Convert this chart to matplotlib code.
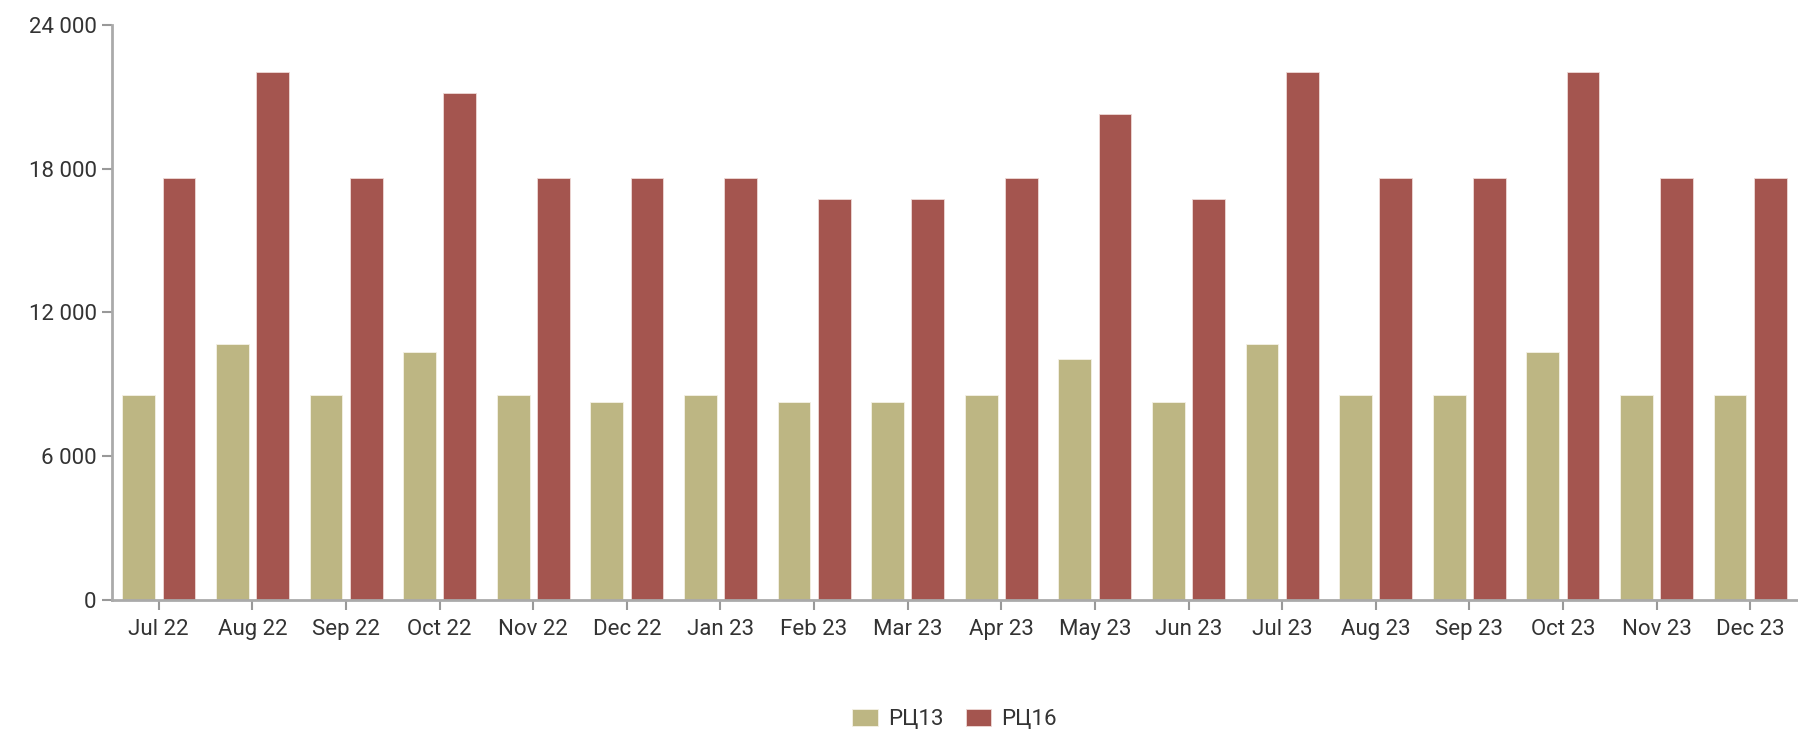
import matplotlib
matplotlib.use('Agg')
import matplotlib.pyplot as plt
import numpy as np
from matplotlib.ticker import FuncFormatter

plt.rcParams['font.family'] = ['Roboto', 'DejaVu Sans']

# dados
meses = ['Jul 22', 'Aug 22', 'Sep 22', 'Oct 22', 'Nov 22', 'Dec 22',
         'Jan 23', 'Feb 23', 'Mar 23', 'Apr 23', 'May 23', 'Jun 23',
         'Jul 23', 'Aug 23', 'Sep 23', 'Oct 23', 'Nov 23', 'Dec 23']
rc13 = [8530, 10660, 8530, 10350, 8530, 8240,
        8530, 8240, 8240, 8530, 10030, 8240,
        10660, 8530, 8530, 10350, 8530, 8530]
rc16 = [17620, 22050, 17620, 21150, 17620, 17620,
        17620, 16730, 16730, 17620, 20270, 16730,
        22050, 17620, 17620, 22050, 17620, 17620]
nomes = ['РЦ13', 'РЦ16']
cores = ['#bdb683', '#a4554f']
y_ticks = [0, 6000, 12000, 18000, 24000]

fig = plt.figure(figsize=(17.99, 7.31), dpi=100)
ax = fig.add_axes([112 / 1799, 1 - 599.5 / 731, (1797 - 112) / 1799, (599.5 - 25) / 731])

x = np.arange(len(meses))
w = 0.35
ax.bar(x - 0.215, rc13, w, color=cores[0], edgecolor='#f4f1e6', linewidth=0.6, label=nomes[0])
ax.bar(x + 0.215, rc16, w, color=cores[1], edgecolor='#eed9d7', linewidth=0.6, label=nomes[1])

ax.set_xlim(-0.5, len(meses) - 0.5)
ax.set_ylim(0, 24000)
ax.set_xticks(x)
ax.set_xticklabels(meses)
ax.set_yticks(y_ticks)
ax.yaxis.set_major_formatter(FuncFormatter(lambda v, p: f'{int(v):,}'.replace(',', ' ')))

for s in ['top', 'right']:
    ax.spines[s].set_visible(False)
for s in ['left', 'bottom']:
    ax.spines[s].set_color('#aaaaaa')
    ax.spines[s].set_linewidth(2)

ax.tick_params(axis='both', colors='#999999', length=7, width=1.5, labelsize=16, labelcolor='#333333')
ax.tick_params(axis='y', pad=4)
ax.tick_params(axis='x', pad=7)

fig.legend(loc='center', bbox_to_anchor=((112 + 1797) / 2 / 1799, 0.016), ncol=2, frameon=False,
           fontsize=16, handlelength=1.15, handleheight=0.8, columnspacing=1.0, handletextpad=0.45,
           labelcolor='#333333')

plt.savefig('out.png', dpi=100)
